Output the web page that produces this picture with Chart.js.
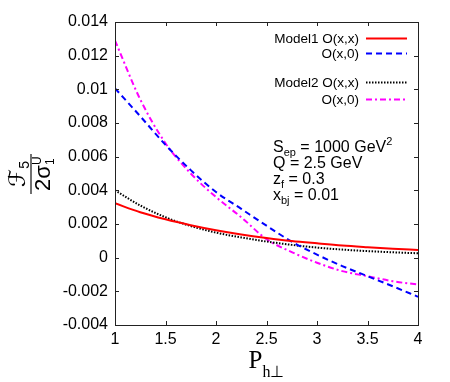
<!DOCTYPE html>
<html>
<head>
<meta charset="utf-8">
<script src="https://cdn.jsdelivr.net/npm/chart.js@4.4.0/dist/chart.umd.min.js"></script>
<style>
  body { margin: 0; background: #fff; }
</style>
</head>
<body>
<canvas id="F5_Chart" width="450" height="382"></canvas>
<script>
// P_h-perp values (x axis)
var pht = [1, 1.25, 1.5, 1.75, 2, 2.25, 2.5, 2.75, 3, 3.25, 3.5, 3.75, 4];

// F5 / 2 sigma_1^U
var model1_xx = [0.00323, 0.0027, 0.00228, 0.00193, 0.00163, 0.00138, 0.00117, 0.00099, 0.00085, 0.00072, 0.00062, 0.00053, 0.00046];
var model1_x0 = [0.01006, 0.0084, 0.0067, 0.0052, 0.0039, 0.0029, 0.0019, 0.00095, 0.00018, -0.0005, -0.0011, -0.0017, -0.00232];
var model2_xx = [0.0040, 0.0031, 0.0024, 0.00188, 0.00149, 0.0012, 0.00096, 0.00076, 0.0006, 0.00048, 0.00039, 0.00032, 0.00026];
var model2_x0 = [0.0129, 0.0094, 0.0068, 0.0050, 0.0036, 0.0024, 0.0011, 0.00033, -0.0003, -0.0008, -0.0011, -0.0014, -0.0016];

var xTicks = [1, 1.5, 2, 2.5, 3, 3.5, 4];
var yTicks = [-0.004, -0.002, 0, 0.002, 0.004, 0.006, 0.008, 0.01, 0.012, 0.014];

var legendText = ['Model1 O(x,x)', 'O(x,0)', 'Model2 O(x,x)', 'O(x,0)'];
var infoLines = [
  [['S', 0], ['ep', 1], [' = 1000 GeV', 0], ['2', 2]],
  [['Q = 2.5 GeV', 0]],
  [['z', 0], ['f', 1], [' = 0.3', 0]],
  [['x', 0], ['bj', 1], [' = 0.01', 0]]
];

var SANS = '"Liberation Sans", Arial, sans-serif';

function toPoints(ys) {
  return pht.map(function(x, i) { return {x: x, y: ys[i]}; });
}

// draw text made of normal/sub/sup pieces, returns end x
function drawPieces(ctx, pieces, x, y, size) {
  pieces.forEach(function(p) {
    var s = p[1] == 0 ? size : Math.round(size * 0.7);
    var dy = p[1] == 1 ? size * 0.25 : (p[1] == 2 ? -size * 0.42 : 0);
    ctx.font = s + 'px ' + SANS;
    ctx.fillText(p[0], x, y + dy);
    x += ctx.measureText(p[0]).width;
  });
  return x;
}

var decor = {
  id: 'decor',
  afterDraw: function(chart) {
    var ctx = chart.ctx;
    var a = chart.chartArea;
    var xs = chart.scales.x, ys = chart.scales.y;
    ctx.save();

    // frame
    ctx.strokeStyle = '#222';
    ctx.lineWidth = 1;
    ctx.strokeRect(a.left + 0.5, a.top + 0.5, a.right - a.left, a.bottom - a.top);

    // inward ticks on all four sides
    ctx.beginPath();
    xTicks.forEach(function(v) {
      var px = Math.round(xs.getPixelForValue(v)) + 0.5;
      ctx.moveTo(px, a.bottom); ctx.lineTo(px, a.bottom - 4);
      ctx.moveTo(px, a.top); ctx.lineTo(px, a.top + 4);
    });
    yTicks.forEach(function(v) {
      var py = Math.round(ys.getPixelForValue(v)) + 0.5;
      ctx.moveTo(a.left, py); ctx.lineTo(a.left + 4, py);
      ctx.moveTo(a.right, py); ctx.lineTo(a.right - 4, py);
    });
    ctx.stroke();

    // legend (no box, text right aligned, sample to the right)
    var rows = [38, 53, 82, 99];
    ctx.font = '13.5px ' + SANS;
    ctx.fillStyle = '#000';
    ctx.textAlign = 'right';
    ctx.textBaseline = 'alphabetic';
    chart.data.datasets.forEach(function(ds, i) {
      ctx.fillText(legendText[i], 359, rows[i] + 5);
      ctx.save();
      ctx.strokeStyle = ds.borderColor;
      ctx.lineWidth = ds.borderWidth;
      ctx.setLineDash(ds.borderDash || []);
      ctx.beginPath();
      ctx.moveTo(366, rows[i] + 0.5);
      ctx.lineTo(407, rows[i] + 0.5);
      ctx.stroke();
      ctx.restore();
    });

    // kinematics text
    ctx.textAlign = 'left';
    var base = [152, 168, 184, 200];
    infoLines.forEach(function(line, i) {
      drawPieces(ctx, line, 273, base[i], 16);
    });

    // y title: F5 / (2 sigma_1^U), rotated
    ctx.save();
    ctx.translate(30, 174);
    ctx.rotate(-Math.PI / 2);
    ctx.textAlign = 'left';
    ctx.font = '23px "DejaVu Sans", serif';
    var fw = ctx.measureText('\u2131').width;
    ctx.font = '14px ' + SANS;
    var nw = fw + ctx.measureText('5').width;
    ctx.font = '23px "DejaVu Sans", serif';
    ctx.fillText('\u2131', -nw / 2, -5);
    ctx.font = '14px ' + SANS;
    ctx.fillText('5', -nw / 2 + fw, -1);
    // denominator
    ctx.font = '22px ' + SANS;
    var dw = ctx.measureText('2\u03c3').width + 8;
    var dx = -dw / 2;
    ctx.fillText('2\u03c3', dx, 20);
    dx += ctx.measureText('2\u03c3').width;
    ctx.font = '12px ' + SANS;
    ctx.fillText('1', dx, 24);
    ctx.fillText('U', dx, 11);
    // bar
    ctx.lineWidth = 1.3;
    ctx.beginPath();
    ctx.moveTo(-20, 1); ctx.lineTo(20, 1);
    ctx.stroke();
    ctx.restore();

    // x title: P_h-perp
    var SERIF = '"Liberation Serif", "Times New Roman", serif';
    ctx.font = '25px ' + SERIF;
    var pw = ctx.measureText('P').width;
    ctx.font = '16px ' + SERIF;
    var sw = ctx.measureText('h\u22a5').width;
    var cx = (a.left + a.right) / 2 - (pw + sw) / 2;
    ctx.font = '25px ' + SERIF;
    ctx.fillText('P', cx, 368);
    ctx.font = '16px ' + SERIF;
    ctx.fillText('h\u22a5', cx + pw, 377);

    ctx.restore();
  }
};

new Chart(document.getElementById('F5_Chart'), {
  type: 'line',
  data: {
    datasets: [
      {label: legendText[0], data: toPoints(model1_xx), borderColor: '#ff0000', borderWidth: 2},
      {label: legendText[1], data: toPoints(model1_x0), borderColor: '#0000ff', borderWidth: 2, borderDash: [6, 4]},
      {label: legendText[2], data: toPoints(model2_xx), borderColor: '#000000', borderWidth: 2, borderDash: [1.5, 1.5]},
      {label: legendText[3], data: toPoints(model2_x0), borderColor: '#ff00ff', borderWidth: 2, borderDash: [6, 3, 2, 3]}
    ]
  },
  options: {
    responsive: false,
    animation: false,
    layout: {padding: {top: 22, right: 32, left: 0, bottom: 0}},
    elements: {
      point: {radius: 0},
      line: {cubicInterpolationMode: 'monotone', fill: false}
    },
    plugins: {legend: {display: false}, tooltip: {enabled: false}},
    scales: {
      x: {
        type: 'linear', min: 1, max: 4,
        afterBuildTicks: function(s) { s.ticks = xTicks.map(function(v) { return {value: v}; }); },
        afterFit: function(s) { s.height = 57; },
        grid: {display: false, drawTicks: false},
        border: {display: false},
        ticks: {autoSkip: false, maxRotation: 0, padding: 5, color: '#000', font: {family: SANS, size: 16},
          callback: function(v) { return String(v); }}
      },
      y: {
        type: 'linear', min: -0.004, max: 0.014,
        afterBuildTicks: function(s) { s.ticks = yTicks.map(function(v) { return {value: v}; }); },
        afterFit: function(s) { s.width = 115; },
        grid: {display: false, drawTicks: false},
        border: {display: false},
        ticks: {autoSkip: false, padding: 7, color: '#000', font: {family: SANS, size: 16},
          callback: function(v) { return String(parseFloat(v.toFixed(3))); }}
      }
    }
  },
  plugins: [decor]
});
</script>
</body>
</html>
